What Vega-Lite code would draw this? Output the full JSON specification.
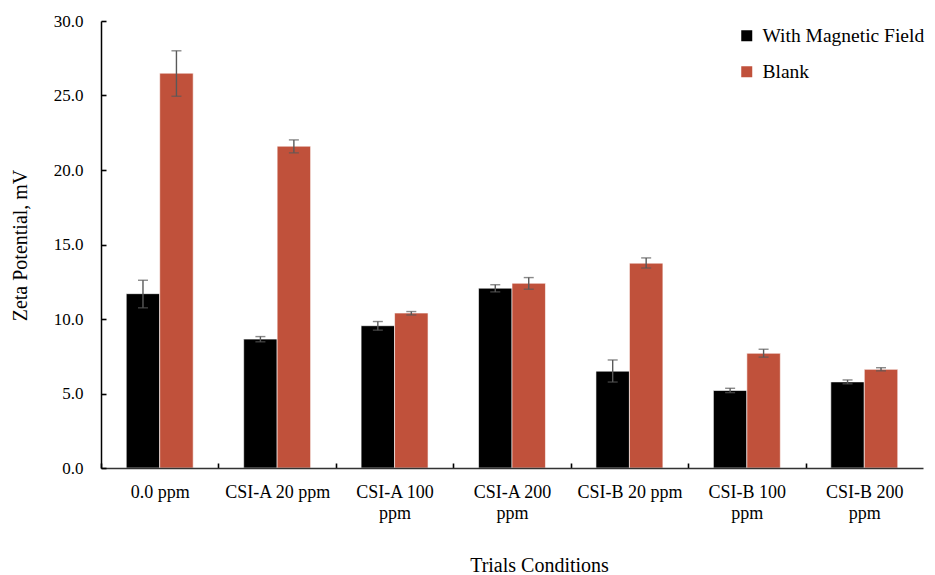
{
  "$schema": "https://vega.github.io/schema/vega-lite/v6.json",
  "width": 822,
  "height": 447,
  "autosize": "none",
  "padding": {"left": 101, "top": 21, "right": 12, "bottom": 107},
  "background": "white",
  "config": {
    "font": "Liberation Serif",
    "view": {"stroke": null}
  },
  "data": {
    "values": [
      {"condition": "0.0 ppm", "series": "With Magnetic Field", "value": 11.7, "lo": 10.75, "hi": 12.6},
      {"condition": "0.0 ppm", "series": "Blank", "value": 26.5, "lo": 24.95, "hi": 28.0},
      {"condition": "CSI-A 20 ppm", "series": "With Magnetic Field", "value": 8.65, "lo": 8.47, "hi": 8.82},
      {"condition": "CSI-A 20 ppm", "series": "Blank", "value": 21.6, "lo": 21.15, "hi": 22.02},
      {"condition": "CSI-A 100 ppm", "series": "With Magnetic Field", "value": 9.55, "lo": 9.25, "hi": 9.83},
      {"condition": "CSI-A 100 ppm", "series": "Blank", "value": 10.4, "lo": 10.27, "hi": 10.5},
      {"condition": "CSI-A 200 ppm", "series": "With Magnetic Field", "value": 12.07, "lo": 11.82, "hi": 12.3},
      {"condition": "CSI-A 200 ppm", "series": "Blank", "value": 12.4, "lo": 12.0, "hi": 12.78},
      {"condition": "CSI-B 20 ppm", "series": "With Magnetic Field", "value": 6.5, "lo": 5.77, "hi": 7.25},
      {"condition": "CSI-B 20 ppm", "series": "Blank", "value": 13.75, "lo": 13.42, "hi": 14.1},
      {"condition": "CSI-B 100 ppm", "series": "With Magnetic Field", "value": 5.2, "lo": 5.06, "hi": 5.35},
      {"condition": "CSI-B 100 ppm", "series": "Blank", "value": 7.7, "lo": 7.44, "hi": 7.97},
      {"condition": "CSI-B 200 ppm", "series": "With Magnetic Field", "value": 5.78, "lo": 5.65, "hi": 5.91},
      {"condition": "CSI-B 200 ppm", "series": "Blank", "value": 6.62, "lo": 6.52, "hi": 6.73}
    ]
  },
  "encoding": {
    "x": {
      "field": "condition",
      "type": "nominal",
      "sort": null,
      "scale": {"paddingInner": 0.43, "paddingOuter": 0.215},
      "axis": {
        "title": "Trials Conditions",
        "titleFont": "Liberation Serif",
        "titleFontSize": 20,
        "titleFontWeight": "normal",
        "titleColor": "black",
        "titleX": 438,
        "titleY": 97,
        "titleBaseline": "middle",
        "labelAngle": 0,
        "labelFont": "Liberation Serif",
        "labelFontSize": 18,
        "labelColor": "black",
        "labelLineHeight": 21,
        "labelPadding": 20,
        "labelExpr": "length(datum.label) > 12 ? [slice(datum.label, 0, lastindexof(datum.label, ' ')), slice(datum.label, lastindexof(datum.label, ' ') + 1)] : datum.label",
        "ticks": true,
        "tickOffset": -58.71,
        "labelOffset": 58.71,
        "tickSize": -5,
        "tickColor": "black",
        "tickWidth": 1.6,
        "domainColor": "#333333",
        "domainWidth": 1.5,
        "grid": false,
        "zindex": 1
      }
    },
    "xOffset": {"field": "series", "type": "nominal", "sort": ["With Magnetic Field", "Blank"]}
  },
  "layer": [
    {
      "mark": {"type": "bar", "stroke": "white", "strokeWidth": 0.6},
      "encoding": {
        "y": {
          "field": "value",
          "type": "quantitative",
          "scale": {"domain": [0, 30], "nice": false},
          "axis": {
            "title": "Zeta Potential, mV",
            "titleFont": "Liberation Serif",
            "titleFontSize": 20,
            "titleFontWeight": "normal",
            "titleColor": "black",
            "titleX": -81,
            "titleY": 224,
            "titleAngle": -90,
            "titleAlign": "center",
            "titleBaseline": "middle",
            "values": [0, 5, 10, 15, 20, 25, 30],
            "format": ".1f",
            "labelFont": "Liberation Serif",
            "labelFontSize": 17,
            "labelColor": "black",
            "labelPadding": 23,
            "ticks": true,
            "tickSize": -5,
            "tickColor": "black",
            "tickWidth": 1.6,
            "domainColor": "black",
            "domainWidth": 1.5,
            "grid": false,
            "zindex": 1
          }
        },
        "color": {
          "field": "series",
          "type": "nominal",
          "sort": ["With Magnetic Field", "Blank"],
          "scale": {"domain": ["With Magnetic Field", "Blank"], "range": ["#000000", "#C0513B"]},
          "legend": {
            "title": null,
            "orient": "none",
            "legendX": 636,
            "legendY": 5,
            "symbolType": "square",
            "symbolSize": 121,
            "symbolStrokeWidth": 0,
            "symbolOpacity": 1,
            "labelFont": "Liberation Serif",
            "labelFontSize": 19.5,
            "labelColor": "black",
            "labelLimit": 0,
            "labelOffset": 6,
            "rowPadding": 15,
            "padding": 0,
            "offset": 0
          }
        }
      }
    },
    {
      "mark": {"type": "rule", "color": "#595959", "strokeWidth": 1.4},
      "encoding": {
        "y": {"field": "lo", "type": "quantitative"},
        "y2": {"field": "hi"}
      }
    },
    {
      "mark": {"type": "tick", "color": "#595959", "thickness": 1.4, "size": 10, "orient": "horizontal"},
      "encoding": {
        "y": {"field": "lo", "type": "quantitative"}
      }
    },
    {
      "mark": {"type": "tick", "color": "#595959", "thickness": 1.4, "size": 10, "orient": "horizontal"},
      "encoding": {
        "y": {"field": "hi", "type": "quantitative"}
      }
    }
  ]
}
